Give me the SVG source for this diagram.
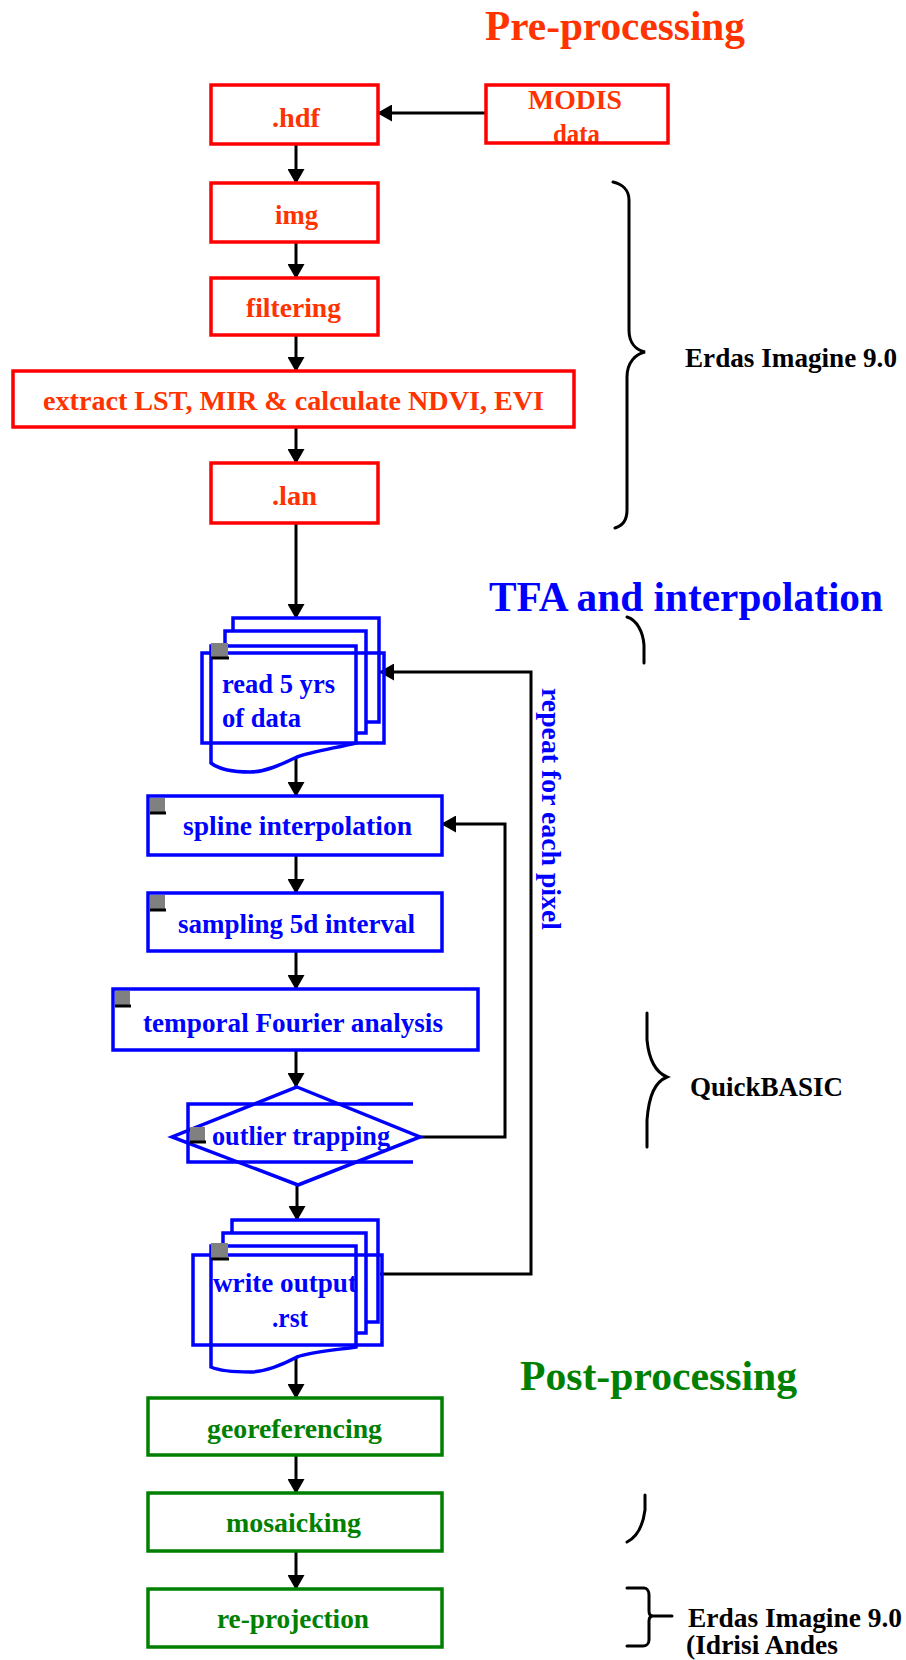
<svg xmlns="http://www.w3.org/2000/svg" width="906" height="1660" viewBox="0 0 906 1660">
<defs>
<style>
text{font-family:"Liberation Serif","Times New Roman",serif;font-weight:bold;font-size:27px}
.title{font-size:42px}
.rt{fill:#FF3300}
.bt{fill:#0000FF}
.gt{fill:#008000}
.kt{fill:#000000}
.rb{fill:none;stroke:#FF0000;stroke-width:3.5}
.bb{fill:none;stroke:#0000FF;stroke-width:3.5}
.gb{fill:none;stroke:#008000;stroke-width:3.5}
.conn{fill:none;stroke:#000;stroke-width:3}
.brace{fill:none;stroke:#000;stroke-width:3;stroke-linecap:round}
.sq{fill:#808080}
.sqs{fill:none;stroke:#000;stroke-width:3}
</style>
<marker id="ah" markerUnits="userSpaceOnUse" markerWidth="15" markerHeight="17" viewBox="0 0 15 17" refX="14" refY="8.5" orient="auto">
<path d="M0,0 L15,8.5 L0,17 Z" fill="#000"/>
</marker>
<clipPath id="modisclip"><rect x="488" y="87" width="178" height="56"/></clipPath>
</defs>
<rect width="906" height="1660" fill="#fff"/>

<text class="title rt" x="485" y="40" textLength="260" lengthAdjust="spacingAndGlyphs">Pre-processing</text>
<text class="title bt" x="489" y="611" textLength="394" lengthAdjust="spacingAndGlyphs">TFA and interpolation</text>
<text class="title gt" x="520" y="1390" textLength="277" lengthAdjust="spacingAndGlyphs">Post-processing</text>

<g id="connectors">
<line class="conn" x1="486" y1="113" x2="378" y2="113" marker-end="url(#ah)"/>
<line class="conn" x1="296" y1="144" x2="296" y2="183" marker-end="url(#ah)"/>
<line class="conn" x1="296" y1="242" x2="296" y2="278" marker-end="url(#ah)"/>
<line class="conn" x1="296" y1="335" x2="296" y2="371" marker-end="url(#ah)"/>
<line class="conn" x1="296" y1="427" x2="296" y2="463" marker-end="url(#ah)"/>
<line class="conn" x1="296" y1="523" x2="296" y2="618" marker-end="url(#ah)"/>
<line class="conn" x1="296" y1="757" x2="296" y2="796" marker-end="url(#ah)"/>
<line class="conn" x1="296" y1="855" x2="296" y2="893" marker-end="url(#ah)"/>
<line class="conn" x1="296" y1="951" x2="296" y2="989" marker-end="url(#ah)"/>
<line class="conn" x1="296" y1="1050" x2="296" y2="1087" marker-end="url(#ah)"/>
<line class="conn" x1="297" y1="1185" x2="297" y2="1220" marker-end="url(#ah)"/>
<line class="conn" x1="296" y1="1357" x2="296" y2="1398" marker-end="url(#ah)"/>
<line class="conn" x1="296" y1="1455" x2="296" y2="1493" marker-end="url(#ah)"/>
<line class="conn" x1="296" y1="1551" x2="296" y2="1589" marker-end="url(#ah)"/>
<path class="conn" d="M380,1274 H531 V672 H380" marker-end="url(#ah)"/>
<path class="conn" d="M420,1137 H505 V824 H442" marker-end="url(#ah)"/>
</g>

<g id="modis">
<text class="rt" x="528" y="109" textLength="94" lengthAdjust="spacingAndGlyphs">MODIS</text>
<text class="rt" x="553" y="143" textLength="47" lengthAdjust="spacingAndGlyphs" clip-path="url(#modisclip)">data</text>
<rect class="rb" x="486" y="85" width="182" height="58"/>
</g>
<g id="hdf">
<rect class="rb" x="211" y="85" width="167" height="59"/>
<text class="rt" x="272" y="127" textLength="48" lengthAdjust="spacingAndGlyphs">.hdf</text>
</g>
<g id="img">
<rect class="rb" x="211" y="183" width="167" height="59"/>
<text class="rt" x="275" y="224" textLength="43" lengthAdjust="spacingAndGlyphs">img</text>
</g>
<g id="filtering">
<rect class="rb" x="211" y="278" width="167" height="57"/>
<text class="rt" x="246" y="317" textLength="95" lengthAdjust="spacingAndGlyphs">filtering</text>
</g>
<g id="extract">
<rect class="rb" x="13" y="371" width="561" height="56"/>
<text class="rt" x="43" y="410" textLength="501" lengthAdjust="spacingAndGlyphs">extract LST, MIR &amp; calculate NDVI, EVI</text>
</g>
<g id="lan">
<rect class="rb" x="211" y="463" width="167" height="60"/>
<text class="rt" x="272" y="505" textLength="45" lengthAdjust="spacingAndGlyphs">.lan</text>
</g>

<g id="read">
<path class="bb" d="M233,631 V618 H379 V722 H365"/>
<path class="bb" d="M225,646 V631 H366 V733 H356"/>
<path class="bb" d="M211,646 H356 V743 C335,748 310,752 297,757 C280,765 265,772 250,772 C235,772 220,770 211,763 Z"/>
<rect class="bb" x="202" y="653" width="182" height="90"/>
<rect class="sq" x="211" y="643" width="17" height="14"/>
<line class="sqs" x1="211" y1="658" x2="229" y2="658"/>
<text class="bt" x="222" y="693" textLength="113" lengthAdjust="spacingAndGlyphs">read 5 yrs</text>
<text class="bt" x="222" y="727" textLength="79" lengthAdjust="spacingAndGlyphs">of data</text>
</g>
<g id="spline">
<rect class="bb" x="148" y="796" width="294" height="59"/>
<rect class="sq" x="150" y="798" width="15" height="14"/>
<line class="sqs" x1="150" y1="813" x2="166" y2="813"/>
<text class="bt" x="183" y="835" textLength="229" lengthAdjust="spacingAndGlyphs">spline interpolation</text>
</g>
<g id="sampling">
<rect class="bb" x="148" y="893" width="294" height="58"/>
<rect class="sq" x="150" y="895" width="15" height="14"/>
<line class="sqs" x1="150" y1="910" x2="166" y2="910"/>
<text class="bt" x="178" y="933" textLength="237" lengthAdjust="spacingAndGlyphs">sampling 5d interval</text>
</g>
<g id="temporal">
<rect class="bb" x="113" y="989" width="365" height="61"/>
<rect class="sq" x="115" y="991" width="15" height="14"/>
<line class="sqs" x1="115" y1="1006" x2="131" y2="1006"/>
<text class="bt" x="143" y="1032" textLength="300" lengthAdjust="spacingAndGlyphs">temporal Fourier analysis</text>
</g>
<g id="outlier">
<path class="bb" d="M413,1104 H188 V1162 H413"/>
<path class="bb" d="M297,1087 L420,1137 L298,1185 L172,1137 Z"/>
<rect class="sq" x="190" y="1127" width="15" height="14"/>
<line class="sqs" x1="190" y1="1142" x2="206" y2="1142"/>
<text class="bt" x="212" y="1145" textLength="178" lengthAdjust="spacingAndGlyphs">outlier trapping</text>
</g>
<g id="write">
<path class="bb" d="M232,1233 V1220 H378 V1322 H365"/>
<path class="bb" d="M223,1246 V1233 H366 V1333 H356"/>
<path class="bb" d="M211,1246 H356 V1347 C335,1350 310,1352 297,1357 C280,1366 265,1372 250,1372 C235,1372 220,1371 211,1367 Z"/>
<rect class="bb" x="193" y="1255" width="189" height="90"/>
<rect class="sq" x="211" y="1243" width="17" height="15"/>
<line class="sqs" x1="211" y1="1259" x2="229" y2="1259"/>
<text class="bt" x="213" y="1292" textLength="144" lengthAdjust="spacingAndGlyphs">write output</text>
<text class="bt" x="272" y="1327" textLength="36" lengthAdjust="spacingAndGlyphs">.rst</text>
</g>
<text class="bt" transform="translate(542,688) rotate(90)" x="0" y="0" textLength="242" lengthAdjust="spacingAndGlyphs">repeat for each pixel</text>

<g id="georeferencing">
<rect class="gb" x="148" y="1398" width="294" height="57"/>
<text class="gt" x="207" y="1438" textLength="175" lengthAdjust="spacingAndGlyphs">georeferencing</text>
</g>
<g id="mosaicking">
<rect class="gb" x="148" y="1493" width="294" height="58"/>
<text class="gt" x="226" y="1532" textLength="135" lengthAdjust="spacingAndGlyphs">mosaicking</text>
</g>
<g id="reprojection">
<rect class="gb" x="148" y="1589" width="294" height="58"/>
<text class="gt" x="217" y="1628" textLength="152" lengthAdjust="spacingAndGlyphs">re-projection</text>
</g>

<g id="braces">
<path class="brace" d="M613,182 C622,184 629,190 629,200 V330 C629,343 636,350 645,352 C636,354 627,362 627,377 V510 C627,520 622,526 615,528"/>
<path class="brace" d="M627,617 C637,620 643,632 644,645 V663"/>
<path class="brace" d="M647,1013 V1040 C649,1060 655,1072 667,1077 C655,1082 649,1095 647,1120 V1147"/>
<path class="brace" d="M645,1495 V1510 C643,1525 637,1537 627,1542"/>
<path class="brace" d="M627,1588 H644 C647,1588 649,1591 649,1595 V1611 C649,1614 650,1616 653,1616 H672 M653,1616 C650,1616 649,1618 649,1621 V1640 C649,1644 646,1646 643,1646 H627"/>
</g>
<text class="kt" x="685" y="367" textLength="212" lengthAdjust="spacingAndGlyphs">Erdas Imagine 9.0</text>
<text class="kt" x="690" y="1096" textLength="153" lengthAdjust="spacingAndGlyphs">QuickBASIC</text>
<text class="kt" x="688" y="1627" textLength="214" lengthAdjust="spacingAndGlyphs">Erdas Imagine 9.0</text>
<text class="kt" x="686" y="1654" textLength="152" lengthAdjust="spacingAndGlyphs">(Idrisi Andes</text>
</svg>
